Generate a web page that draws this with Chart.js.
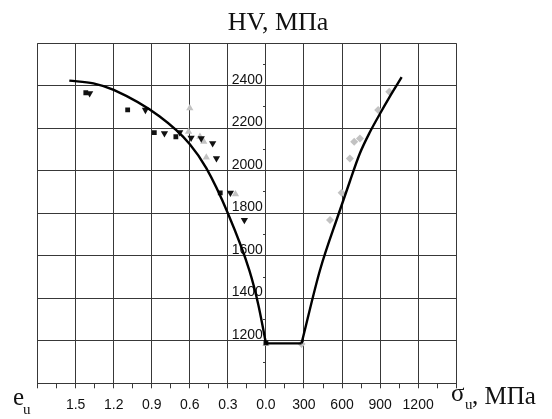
<!DOCTYPE html>
<html><head><meta charset="utf-8">
<style>html,body{margin:0;padding:0;background:#fff;}canvas{display:block;}</style>
<script src="https://cdn.jsdelivr.net/npm/chart.js@4.4.0/dist/chart.umd.min.js"></script>
</head><body>
<canvas id="c" width="552" height="419"></canvas>
<script>
// ---- texts ----
const titleText = 'HV, МПа';
const leftSymbol = 'e', leftSub = 'u';
const rightSymbol = 'σ', rightSub = 'u', rightUnit = ', МПа';

// ---- tick labels ----
const euTickLabels = ['1.5', '1.2', '0.9', '0.6', '0.3', '0.0'];
const euTickValues = [1.5, 1.2, 0.9, 0.6, 0.3, 0.0];
const sigmaTickLabels = ['300', '600', '900', '1200'];
const sigmaTickValues = [300, 600, 900, 1200];
const hvTickLabels = ['1200', '1400', '1600', '1800', '2000', '2200', '2400'];

// ---- fitted curve, left branch (e_u vs HV) ----
const curveLeftEu = [1.55, 1.36, 1.20, 0.84, 0.60, 0.47, 0.30, 0.13, 0.06, 0.0];
const curveLeftHV = [2424, 2411, 2380, 2256, 2125, 2012, 1800, 1530, 1370, 1188];
// ---- flat part (sigma_u) ----
const flatSigma = [0, 281];
const flatHV = [1188, 1188];
// ---- right branch (sigma_u vs HV) ----
const curveRightSigma = [281, 426, 575, 660, 741, 820, 899, 980, 1070];
const curveRightHV = [1188, 1532, 1800, 1947, 2082, 2182, 2268, 2352, 2440];

// ---- experimental points ----
const squaresEu = [1.42, 1.09, 0.88, 0.71, 0.36, 0.0];
const squaresHV = [2367, 2286, 2179, 2160, 1896, 1190];
const blackTriEu = [1.39, 0.95, 0.80, 0.68, 0.59, 0.51, 0.42, 0.39, 0.28, 0.17];
const blackTriHV = [2364, 2286, 2176, 2181, 2155, 2152, 2129, 2058, 1896, 1768];
const greyTriEu = [0.60, 0.61, 0.52, 0.49, 0.47, 0.24, 0.0];
const greyTriHV = [2294, 2184, 2160, 2137, 2063, 1890, 1185];
const diamondSigma = [281, 505, 597, 662, 696, 741, 885, 972];
const diamondHV = [1185, 1768, 1896, 2058, 2136, 2152, 2286, 2372];

// e_u is plotted on the negative side of one shared axis (1 unit of e_u = 1000)
const euToX = e => -e * 1000;
const ptsEu = (es, hs) => es.map((e, i) => ({x: euToX(e), y: hs[i]}));
const ptsS = (ss, hs) => ss.map((s, i) => ({x: s, y: hs[i]}));

const gridCol = '#383838';
const greyCol = '#c2c2c2';

const textPlugin = {
  id: 'texts',
  afterDraw(chart) {
    const ctx = chart.ctx;
    ctx.save();
    ctx.fillStyle = '#111';
    ctx.textBaseline = 'alphabetic';
    ctx.textAlign = 'center';
    ctx.font = '26px "Liberation Serif"';
    ctx.fillText(titleText, 278, 29.5);
    ctx.textAlign = 'left';
    ctx.font = '25px "Liberation Serif"';
    ctx.fillText(leftSymbol, 13, 405);
    ctx.font = '15px "Liberation Serif"';
    ctx.fillText(leftSub, 23, 413.5);
    ctx.font = '25px "Liberation Serif"';
    ctx.fillText(rightSymbol, 451, 400.5);
    ctx.font = '15px "Liberation Serif"';
    ctx.fillText(rightSub, 465, 408.5);
    ctx.font = '25px "Liberation Serif"';
    ctx.fillText(rightUnit, 472, 403.5);
    ctx.restore();
  }
};

new Chart(document.getElementById('c'), {
  type: 'scatter',
  data: {
    datasets: [
      {data: ptsEu(curveLeftEu, curveLeftHV), showLine: true, borderColor: '#000', borderWidth: 2.4, pointRadius: 0, cubicInterpolationMode: 'monotone', fill: false},
      {data: ptsS(flatSigma, flatHV), showLine: true, borderColor: '#000', borderWidth: 2.4, pointRadius: 0, tension: 0, fill: false},
      {data: ptsS(curveRightSigma, curveRightHV), showLine: true, borderColor: '#000', borderWidth: 2.4, pointRadius: 0, cubicInterpolationMode: 'monotone', fill: false},
      {data: ptsEu(squaresEu, squaresHV), pointStyle: 'rect', pointRadius: 3.4, backgroundColor: '#111', borderColor: '#111', borderWidth: 0},
      {data: ptsEu(blackTriEu, blackTriHV), pointStyle: 'triangle', rotation: 180, pointRadius: 4.2, backgroundColor: '#111', borderColor: '#111', borderWidth: 0},
      {data: ptsEu(greyTriEu, greyTriHV), pointStyle: 'triangle', pointRadius: 4.2, backgroundColor: greyCol, borderColor: greyCol, borderWidth: 0},
      {data: ptsS(diamondSigma, diamondHV), pointStyle: 'rectRot', pointRadius: 4, backgroundColor: greyCol, borderColor: greyCol, borderWidth: 0}
    ]
  },
  options: {
    responsive: false,
    animation: false,
    devicePixelRatio: 1,
    layout: {padding: {left: 37.6, right: 95.8, top: 43.2, bottom: 0}},
    plugins: {legend: {display: false}, tooltip: {enabled: false}, title: {display: false}},
    scales: {
      x: {
        type: 'linear', position: 'bottom', min: -1800, max: 1500,
        afterFit(s) { s.height = 35.7; s.paddingLeft = 0; s.paddingRight = 0; },
        ticks: {
          stepSize: 150, autoSkip: false, maxRotation: 0, minRotation: 0, padding: 8,
          color: '#111', font: {family: 'Liberation Sans', size: 14},
          callback(v) {
            if (v <= 0) {
              const i = euTickValues.findIndex(e => Math.abs(euToX(e) - v) < 1e-6);
              return i >= 0 ? euTickLabels[i] : '';
            }
            const j = sigmaTickValues.indexOf(v);
            return j >= 0 ? sigmaTickLabels[j] : '';
          }
        },
        grid: {
          color: c => (Math.round(c.tick.value) % 300 === 0 ? gridCol : 'rgba(0,0,0,0)'),
          tickColor: gridCol, tickLength: 5, lineWidth: 1
        },
        border: {display: true, color: gridCol, width: 1}
      },
      y: {
        // axis sits a hair left of sigma = 0 so labels keep a small gap; ticks reach back to the 0 line
        type: 'linear', position: {x: -24}, min: 1000, max: 2600,
        afterFit(s) { s.paddingTop = 0; s.paddingBottom = 0; s.paddingLeft = 0; s.paddingRight = 0; },
        ticks: {
          stepSize: 100, autoSkip: false, padding: 0, labelOffset: -6,
          color: '#111', font: {family: 'Liberation Sans', size: 14},
          callback(v) { const i = hvTickLabels.indexOf(String(v)); return i >= 0 ? hvTickLabels[i] : ''; }
        },
        grid: {
          color: c => (Math.round(c.tick.value) % 200 === 0 ? gridCol : 'rgba(0,0,0,0)'),
          tickColor: gridCol, tickLength: -3, lineWidth: 1
        },
        border: {display: false}
      }
    }
  },
  plugins: [textPlugin]
});
</script>
</body></html>
